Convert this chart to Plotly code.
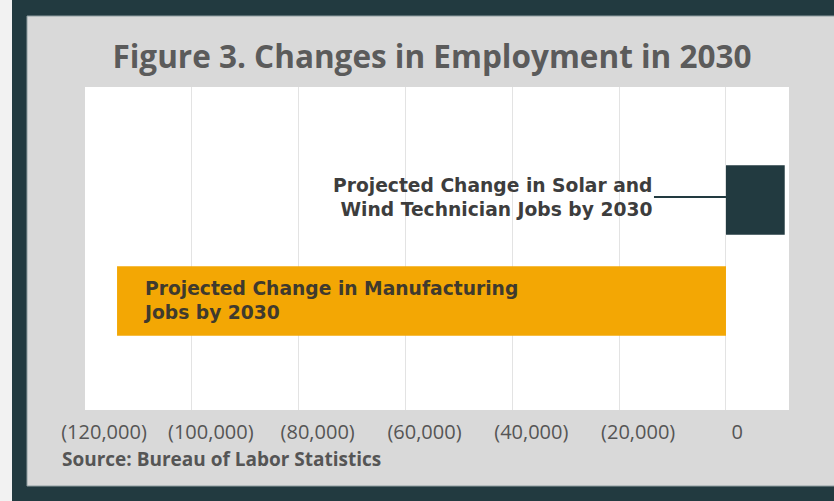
import plotly.graph_objects as go

# ---- data ----
categories = ["Manufacturing", "Solar and Wind Technician"]
changes = [-114000, 11000]
bar_colors = ["#f3a704", "#223a40"]
bar_labels = [
    "Projected Change in Manufacturing<br>Jobs by 2030",
    "Projected Change in Solar and<br>Wind Technician Jobs by 2030",
]
tick_values = [-120000, -100000, -80000, -60000, -40000, -20000, 0]
tick_labels = ["(120,000)", "(100,000)", "(80,000)", "(60,000)", "(40,000)", "(20,000)",
               "0\u00a0\u00a0\u00a0"]
title_text = "Figure 3. Changes in Employment in 2030"
source_text = "Source: Bureau of Labor Statistics"

# ---- layout geometry (pixels) ----
W, H = 834, 501
ML, MR, MT, MB = 85, 45, 87, 91
PW, PH = W - ML - MR, H - MT - MB


def px(x):
    return (x - ML) / PW


def py(y):
    return (H - MB - y) / PH


fig = go.Figure()
fig.add_trace(go.Bar(
    y=categories, x=changes, orientation="h",
    marker=dict(color=bar_colors, line=dict(width=0)),
    width=0.69, hoverinfo="x+y",
))

DARK = "#223a40"
shapes = [
    dict(type="rect", xref="paper", yref="paper", x0=px(0), x1=px(12), y0=py(H), y1=py(0),
         fillcolor="#f2f2f2", line=dict(width=0), layer="below"),
    dict(type="rect", xref="paper", yref="paper", x0=px(12), x1=px(27), y0=py(H), y1=py(0),
         fillcolor=DARK, line=dict(width=0), layer="below"),
    dict(type="rect", xref="paper", yref="paper", x0=px(12), x1=px(W), y0=py(16), y1=py(0),
         fillcolor=DARK, line=dict(width=0), layer="below"),
    dict(type="rect", xref="paper", yref="paper", x0=px(12), x1=px(W), y0=py(H), y1=py(486),
         fillcolor=DARK, line=dict(width=0), layer="below"),
    dict(type="rect", xref="paper", yref="paper", x0=px(27), x1=px(W + 5), y0=py(486), y1=py(16),
         fillcolor="rgba(0,0,0,0)", line=dict(width=1, color="#8f9da0"), layer="below"),
]

LABEL_FONT = "DejaVu Sans"
annotations = [
    dict(x=changes[0], y=categories[0], xref="x", yref="y", text="<b>" + bar_labels[0] + "</b>",
         showarrow=False, xanchor="left", yanchor="middle", xshift=24, align="left",
         font=dict(family=LABEL_FONT, size=18.7, color="#3f3a2e")),
    dict(x=0, y=categories[1], xref="x", yref="y", text="<b>" + bar_labels[1] + "</b>",
         showarrow=True, arrowhead=0, arrowwidth=2, arrowcolor=DARK,
         ax=-72, ay=0, yshift=3, xanchor="right", yanchor="middle", align="right",
         font=dict(family=LABEL_FONT, size=18.7, color="#3d3d3d")),
    dict(x=px(60), y=py(459), xref="paper", yref="paper", text="<b>" + source_text + "</b>",
         showarrow=False, xanchor="left", yanchor="middle",
         font=dict(family="Open Sans", size=19, color="#555555")),
]

fig.update_layout(
    width=W, height=H,
    margin=dict(l=ML, r=MR, t=MT, b=MB),
    paper_bgcolor="#d9d9d9",
    plot_bgcolor="#ffffff",
    showlegend=False,
    title=dict(text="<b>" + title_text + "</b>", x=432 / W, xref="container", xanchor="center",
               y=1 - 57 / H, yref="container", yanchor="middle",
               font=dict(family="Open Sans", size=31.5, color="#5b5b5b")),
    xaxis=dict(range=[-120000, 11800], tickvals=tick_values, ticktext=tick_labels,
               showgrid=True, gridcolor="#e3e3e3", gridwidth=1, zeroline=False,
               showline=False, ticks="", ticklabelshift=19, ticklabelstandoff=8,
               tickfont=dict(family="Open Sans", size=20, color="#555555"), fixedrange=True),
    yaxis=dict(range=[-1.08, 2.12], showticklabels=False, showgrid=False, zeroline=False,
               showline=False, ticks="", fixedrange=True),
    shapes=shapes,
    annotations=annotations,
    bargap=0.3,
)

fig.write_html("out.html")
